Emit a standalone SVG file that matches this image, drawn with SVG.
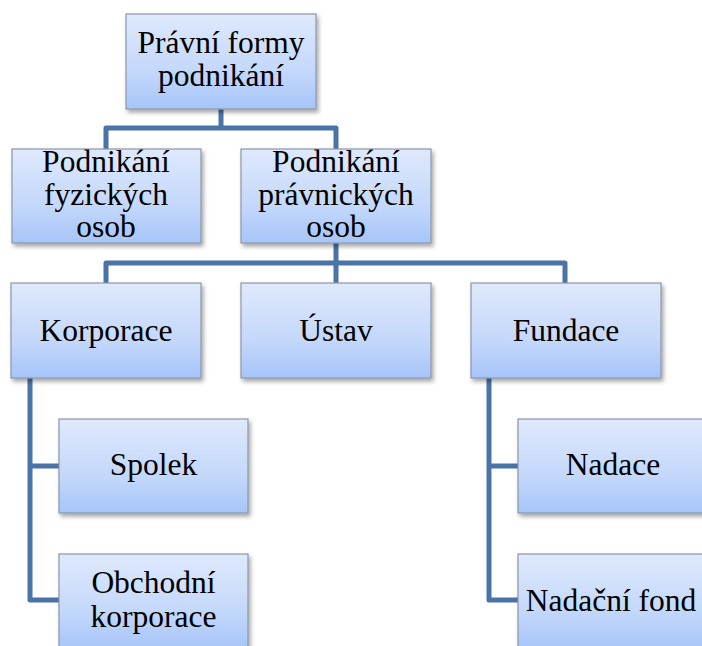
<svg xmlns="http://www.w3.org/2000/svg" width="702" height="646" viewBox="0 0 702 646">
<defs>
<linearGradient id="g" x1="0" y1="0" x2="0" y2="1">
<stop offset="0" stop-color="#dfe9fc"/>
<stop offset="0.6" stop-color="#c4d8fb"/>
<stop offset="1" stop-color="#a6c5f9"/>
</linearGradient>
<filter id="sh" x="-10%" y="-10%" width="125%" height="130%">
<feDropShadow dx="2" dy="3" stdDeviation="2" flood-color="#000" flood-opacity="0.35"/>
</filter>
<style>
.box{fill:url(#g);stroke:#8b97a8;stroke-width:1.2;filter:url(#sh)}
.t{font-size:31.5px;fill:#000;text-anchor:middle}
.c{fill:none;stroke:#4a73a8;stroke-width:5;stroke-linejoin:round;stroke-linecap:butt}
</style>
</defs>
<rect width="702" height="646" fill="#fff"/>
<g id="connectors">
<path class="c" d="M221,109 V128 M106,149 V128 H336 V149"/>
<path class="c" d="M336,243 V283 M106,283 V263 H565 V283"/>
<path class="c" d="M30,378 V600 H59 M30,466 H59"/>
<path class="c" d="M489,378 V600 H518 M489,466 H518"/>
</g>
<g font-family="'Liberation Serif', 'DejaVu Serif', serif">
<g id="pravni-formy">
<rect class="box" x="126" y="14" width="190" height="95"/>
<text class="t" x="221" y="53">Právní formy</text>
<text class="t" x="221" y="86">podnikání</text>
</g>
<g id="fyzicke">
<rect class="box" x="12" y="149" width="189" height="94"/>
<text class="t" x="106" y="172">Podnikání</text>
<text class="t" x="106" y="205">fyzických</text>
<text class="t" x="106" y="237">osob</text>
</g>
<g id="pravnicke">
<rect class="box" x="241" y="149" width="190" height="94"/>
<text class="t" x="336" y="172">Podnikání</text>
<text class="t" x="336" y="205">právnických</text>
<text class="t" x="336" y="237">osob</text>
</g>
<g id="korporace">
<rect class="box" x="11" y="283" width="190" height="95"/>
<text class="t" x="106" y="341">Korporace</text>
</g>
<g id="ustav">
<rect class="box" x="241" y="283" width="190" height="95"/>
<text class="t" x="336" y="341">Ústav</text>
</g>
<g id="fundace">
<rect class="box" x="471" y="283" width="190" height="95"/>
<text class="t" x="566" y="341">Fundace</text>
</g>
<g id="spolek">
<rect class="box" x="59" y="419" width="189" height="94"/>
<text class="t" x="153.5" y="475">Spolek</text>
</g>
<g id="obchodni-korporace">
<rect class="box" x="59" y="554" width="189" height="95"/>
<text class="t" x="153.5" y="593">Obchodní</text>
<text class="t" x="153.5" y="627">korporace</text>
</g>
<g id="nadace">
<rect class="box" x="518" y="419" width="190" height="94"/>
<text class="t" x="613" y="475">Nadace</text>
</g>
<g id="nadacni-fond">
<rect class="box" x="518" y="554" width="190" height="95"/>
<text class="t" x="611" y="611">Nadační fond</text>
</g>
</g>
</svg>
